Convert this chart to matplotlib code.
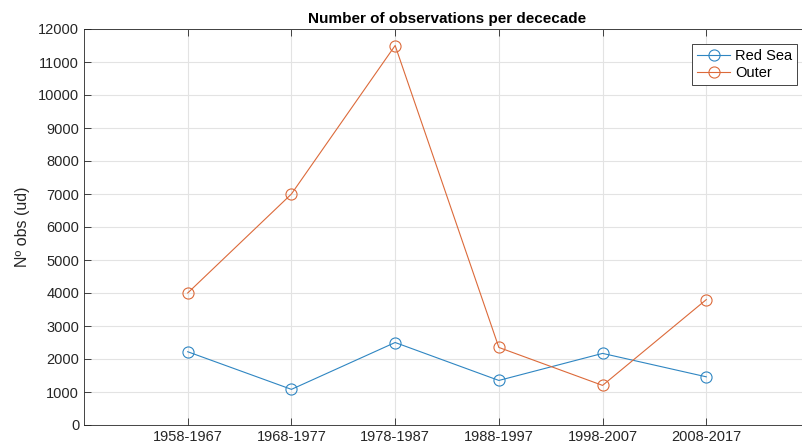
import numpy as np
import matplotlib.pyplot as plt

plt.rcParams['font.family'] = ['Liberation Sans', 'DejaVu Sans']

# data
decades = ['1958-1967', '1968-1977', '1978-1987', '1988-1997', '1998-2007', '2008-2017']
red_sea = [2220, 1080, 2500, 1350, 2170, 1460]
outer = [4000, 7000, 11500, 2350, 1200, 3800]
y_ticks = list(range(0, 12001, 1000))

blue = '#2f86c2'
orange = '#dc6a3a'

fig = plt.figure(figsize=(8.03, 4.46), dpi=100)
ax = fig.add_axes([84 / 803, 21 / 446, 726 / 803, 396 / 446])

x = np.arange(1, len(decades) + 1)
ax.plot(x, red_sea, '-o', color=blue, mfc='none', ms=8, lw=0.8, mew=0.8, label='Red Sea')
ax.plot(x, outer, '-o', color=orange, mfc='none', ms=8, lw=0.8, mew=0.8, label='Outer')

ax.set_xlim(0, 7)
ax.set_ylim(0, 12000)
ax.set_xticks(x)
ax.set_xticklabels(decades)
ax.set_yticks(y_ticks)

ax.grid(True, color='#e3e3e3', lw=0.8)
ax.set_axisbelow(True)
ax.tick_params(direction='in', length=5, colors='#262626', labelsize=10.5, width=0.6,
               top=True, right=True)
for s in ax.spines.values():
    s.set_color('#262626')
    s.set_linewidth(0.6)

ax.set_title('Number of observations per dececade', fontsize=11, fontweight='bold', pad=4)
ax.set_ylabel('Nº obs (ud)', fontsize=11.5, color='#262626', labelpad=6)

leg = ax.legend(loc='upper right', bbox_to_anchor=(797 / 803, 1 - 44 / 446),
                bbox_transform=fig.transFigure, fontsize=10.5, fancybox=False,
                framealpha=1, edgecolor='#262626', borderpad=0.35, labelspacing=0.2,
                handlelength=2.3, handletextpad=0.3, borderaxespad=0)
leg.get_frame().set_linewidth(0.6)

fig.savefig('out.png', dpi=100)
